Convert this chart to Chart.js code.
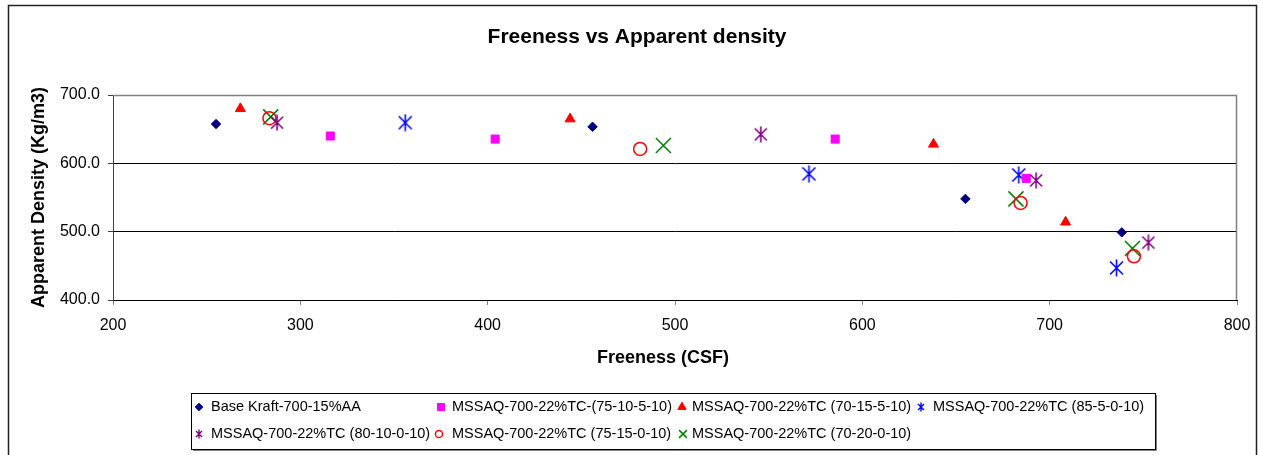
<!DOCTYPE html>
<html>
<head>
<meta charset="utf-8">
<title>Freeness vs Apparent density</title>
<script src="https://cdn.jsdelivr.net/npm/chart.js@4.4.1/dist/chart.umd.min.js"></script>
<style>
  html, body { margin: 0; padding: 0; background: #fff; }
  #wrap { position: relative; width: 1263px; height: 455px; }
</style>
</head>
<body>
<div id="wrap"><canvas id="densityChart" width="1263" height="455"></canvas></div>
<script>
const FONT = '"Liberation Sans", Arial, Helvetica, sans-serif';

const chartTitle = 'Freeness vs Apparent density';
const xTitle = 'Freeness (CSF)';
const yTitle = 'Apparent Density (Kg/m3)';

// axis ranges (CSF / kg per m3)
const xRange = [200, 800];
const yRange = [400, 700];

const seriesNames = [
    'Base Kraft-700-15%AA',
    'MSSAQ-700-22%TC-(75-10-5-10)',
    'MSSAQ-700-22%TC (70-15-5-10)',
    'MSSAQ-700-22%TC (85-5-0-10)',
    'MSSAQ-700-22%TC (80-10-0-10)',
    'MSSAQ-700-22%TC (75-15-0-10)',
    'MSSAQ-700-22%TC (70-20-0-10)'
];

const baseKraftFreeness = [255, 456, 655, 738.5];
const baseKraftDensity  = [657.5, 653.5, 548, 499];

const tc75_10_5Freeness = [316, 404, 585.5, 687.5];
const tc75_10_5Density  = [640, 635.5, 635.5, 578];

const tc70_15_5Freeness = [268, 444, 638, 708.5];
const tc70_15_5Density  = [680, 665, 628, 514];

const tc85_5_0Freeness = [356, 571.5, 683.5, 735.7];
const tc85_5_0Density  = [659.5, 584.5, 583, 447];

const tc80_10_0Freeness = [287.6, 545.8, 692.8, 752.7];
const tc80_10_0Density  = [659.5, 642.4, 575, 484];

const tc75_15_0Freeness = [283.5, 481.4, 684.5, 745];
const tc75_15_0Density  = [666, 621, 542, 464];

const tc70_20_0Freeness = [284.2, 493.8, 682, 744.2];
const tc70_20_0Density  = [668, 626, 548, 475.5];

function toPoints(xs, ys) {
    return xs.map((x, i) => ({ x: x, y: ys[i] }));
}

// Excel style asterisk: an x with a vertical bar through it
function asterisk(color, w, h, lw) {
    const c = document.createElement('canvas');
    c.width = w; c.height = h;
    const g = c.getContext('2d');
    g.strokeStyle = color;
    g.lineWidth = lw;
    const dy = (h - w) / 2 + 1;
    g.beginPath();
    g.moveTo(w / 2, 0.5); g.lineTo(w / 2, h - 0.5);
    g.moveTo(1, dy); g.lineTo(w - 1, h - dy);
    g.moveTo(w - 1, dy); g.lineTo(1, h - dy);
    g.stroke();
    return c;
}

const markers = [
    { color: '#000080', fill: '#000080', style: 'rectRot', radius: 4.7, width: 1, legendRadius: 3.8 },
    { color: '#FF00FF', fill: '#FF00FF', style: 'rect', radius: 5.7, width: 1, legendRadius: 5 },
    { color: '#FF0000', fill: '#FF0000', style: 'triangle', radius: 5.8, width: 1, legendRadius: 4.8 },
    { color: '#0000FF', fill: '#0000FF', style: asterisk('#0000FF', 15, 18, 1.6), legendStyle: asterisk('#0000FF', 8, 10, 1.4), radius: 8, width: 0 },
    { color: '#800080', fill: '#800080', style: asterisk('#800080', 14, 17, 1.6), legendStyle: asterisk('#800080', 8, 10, 1.4), radius: 8, width: 0 },
    { color: '#FF0000', fill: 'rgba(0,0,0,0)', style: 'circle', radius: 6.5, width: 1.5, legendRadius: 3.6 },
    { color: '#008000', fill: '#008000', style: 'crossRot', radius: 10.6, width: 1.5, legendRadius: 5.5 }
];

const seriesPoints = [
    toPoints(baseKraftFreeness, baseKraftDensity),
    toPoints(tc75_10_5Freeness, tc75_10_5Density),
    toPoints(tc70_15_5Freeness, tc70_15_5Density),
    toPoints(tc85_5_0Freeness, tc85_5_0Density),
    toPoints(tc80_10_0Freeness, tc80_10_0Density),
    toPoints(tc75_15_0Freeness, tc75_15_0Density),
    toPoints(tc70_20_0Freeness, tc70_20_0Density)
];

const datasets = seriesNames.map((name, i) => ({
    label: name,
    data: seriesPoints[i],
    showLine: false,
    pointStyle: markers[i].style,
    pointRadius: markers[i].radius,
    pointHoverRadius: markers[i].radius,
    pointBorderWidth: markers[i].width,
    pointBorderColor: markers[i].color,
    pointBackgroundColor: markers[i].fill
}));

// legend grid: marker x, text x, row y
const legendSlots = [
    { mx: 199, tx: 211, y: 407 },
    { mx: 441, tx: 452, y: 407 },
    { mx: 682, tx: 692, y: 407 },
    { mx: 921, tx: 933, y: 407 },
    { mx: 199, tx: 211, y: 434 },
    { mx: 439, tx: 452, y: 434 },
    { mx: 683, tx: 692, y: 434 }
];

const framePlugin = {
    id: 'frame',
    beforeDraw(chart) {
        const ctx = chart.ctx;
        ctx.save();
        ctx.fillStyle = '#fff';
        ctx.fillRect(0, 0, chart.width, chart.height);
        ctx.strokeStyle = '#222';
        ctx.lineWidth = 1.5;
        ctx.strokeRect(8.5, 5.5, 1248, 470);
        ctx.fillStyle = '#000';
        ctx.textAlign = 'center';
        ctx.textBaseline = 'middle';
        ctx.font = 'bold 21px ' + FONT;
        ctx.fillText(chartTitle, 637, 37);
        ctx.font = 'bold 18px ' + FONT;
        ctx.fillText(xTitle, 663, 358);
        ctx.restore();
    },
    beforeDatasetsDraw(chart) {
        const a = chart.chartArea;
        const ctx = chart.ctx;
        ctx.save();
        ctx.strokeStyle = '#808080';
        ctx.lineWidth = 1.5;
        ctx.beginPath();
        ctx.moveTo(a.left, a.top + 0.5);
        ctx.lineTo(a.right - 0.5, a.top + 0.5);
        ctx.lineTo(a.right - 0.5, a.bottom);
        ctx.stroke();
        ctx.restore();
    },
    afterDraw(chart) {
        const ctx = chart.ctx;
        ctx.save();
        // legend box with a light shadow edge
        ctx.strokeStyle = '#808080';
        ctx.lineWidth = 1;
        ctx.beginPath();
        ctx.moveTo(1156.5, 395);
        ctx.lineTo(1156.5, 450.5);
        ctx.lineTo(193, 450.5);
        ctx.stroke();
        ctx.strokeStyle = '#000';
        ctx.strokeRect(191.5, 393.5, 964, 56);

        ctx.font = '14.5px ' + FONT;
        ctx.textBaseline = 'middle';
        ctx.textAlign = 'left';
        seriesNames.forEach((name, i) => {
            const s = legendSlots[i];
            const m = markers[i];
            ctx.fillStyle = m.fill;
            ctx.strokeStyle = m.color;
            ctx.lineWidth = m.width || 1;
            Chart.helpers.drawPoint(ctx, {
                pointStyle: m.legendStyle || m.style,
                radius: m.legendRadius || 4,
                rotation: 0,
                borderWidth: m.width
            }, s.mx, s.y);
            ctx.fillStyle = '#000';
            ctx.fillText(name, s.tx, s.y);
        });
        ctx.restore();
    }
};

new Chart(document.getElementById('densityChart'), {
    type: 'scatter',
    data: { datasets: datasets },
    plugins: [framePlugin],
    options: {
        responsive: false,
        animation: false,
        devicePixelRatio: 1,
        layout: { padding: { left: 0, right: 26, top: 95, bottom: 0 } },
        plugins: {
            legend: { display: false },
            title: { display: false },
            tooltip: { enabled: false }
        },
        scales: {
            x: {
                type: 'linear',
                min: xRange[0],
                max: xRange[1],
                ticks: {
                    stepSize: 100,
                    padding: 11,
                    color: '#000',
                    font: { family: FONT, size: 16 }
                },
                grid: { drawOnChartArea: false, tickLength: 5, tickColor: '#808080' },
                border: { color: '#000', width: 1 },
                afterFit(scale) { scale.height = 155; }
            },
            y: {
                min: yRange[0],
                max: yRange[1],
                ticks: {
                    stepSize: 100,
                    padding: 8,
                    color: '#000',
                    font: { family: FONT, size: 16 },
                    callback: v => v.toFixed(1)
                },
                grid: {
                    color: ctx => (ctx.tick && ctx.tick.value === yRange[1]) ? '#808080' : '#000',
                    tickColor: '#404040',
                    tickLength: 5
                },
                border: { color: '#404040', width: 1 },
                title: {
                    display: true,
                    text: yTitle,
                    color: '#000',
                    font: { family: FONT, size: 18, weight: 'bold' },
                    padding: { top: 28, bottom: 0 }
                },
                afterFit(scale) { scale.width = 113; }
            }
        }
    }
});
</script>
</body>
</html>
